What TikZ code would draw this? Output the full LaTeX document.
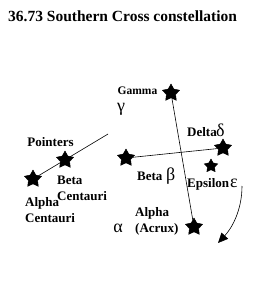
\documentclass[tikz,border=0pt]{standalone}
\usepackage{fontspec}
\setmainfont{Liberation Serif}
\usetikzlibrary{shapes.geometric,arrows.meta}
\begin{document}
\begin{tikzpicture}[x=1pt,y=-1pt,
  bigstar/.style={star,star points=5,star point ratio=1.85,fill=black,draw=black,inner sep=0pt,minimum size=18pt},
  smallstar/.style={bigstar,minimum size=14pt},
  lbl/.style={font=\bfseries\fontsize{13}{16}\selectfont,inner sep=0pt,align=left},
  grk/.style={font=\fontsize{18}{18}\selectfont,inner sep=0pt},
  ln/.style={line width=0.6pt}]
\useasboundingbox (0,0) rectangle (265,302);
\node[anchor=base west,inner sep=0pt,font=\bfseries\fontsize{15.5}{18}\selectfont] (title) at (8,22) {36.73 Southern Cross constellation};
% stars
\node[bigstar] (gamma) at (171,93) {};
\node[bigstar] (beta) at (126,158) {};
\node[bigstar] (delta) at (223,148) {};
\node[smallstar] (eps) at (211,166) {};
\node[bigstar] (alpha) at (194,227) {};
\coordinate (pend) at (108,134);
\node[bigstar] (acen) at (33,179) {};
% lines
\draw[ln] (gamma) -- (alpha);
\draw[ln] (beta) -- (delta);
\draw[ln] (pend) -- (acen);
\node[bigstar] (bcen) at (65,160) {};
% curved arrow
\coordinate (cstart) at (242,186);
\coordinate (cend) at (218,243);
\draw[ln,-{Triangle[length=10pt,width=9pt]}] (cstart) .. controls (242,210) and (232,228) .. (cend);
% labels
\node[lbl,anchor=base,font=\bfseries\fontsize{11.5}{14}\selectfont] (lgamma) at (137.5,95) {Gamma};
\node[grk,anchor=base] (ggamma) at (121,111) {γ};
\node[lbl,anchor=base] (lpoint) at (50.5,146) {Pointers};
\node[lbl,anchor=north west] (lbcen) at (57,176) {Beta\\Centauri};
\node[lbl,anchor=north west] (lacen) at (25,197) {Alpha\\Centauri};
\node[lbl,anchor=base west] (ldelta) at (187,136) {Delta};
\node[grk,anchor=base west] (gdelta) at (216,136) {δ};
\node[lbl,anchor=base west] (lbeta) at (137,180) {Beta};
\node[grk,anchor=base west] (gbeta) at (166,180) {β};
\node[lbl,anchor=base west] (leps) at (187,187) {Epsilon};
\node[grk,anchor=base west] (geps) at (230,187) {ε};
\node[lbl,anchor=north west] (lalpha) at (135,207) {Alpha\\(Acrux)};
\node[grk,anchor=base] (galpha) at (118,232) {α};
\end{tikzpicture}
\end{document}
